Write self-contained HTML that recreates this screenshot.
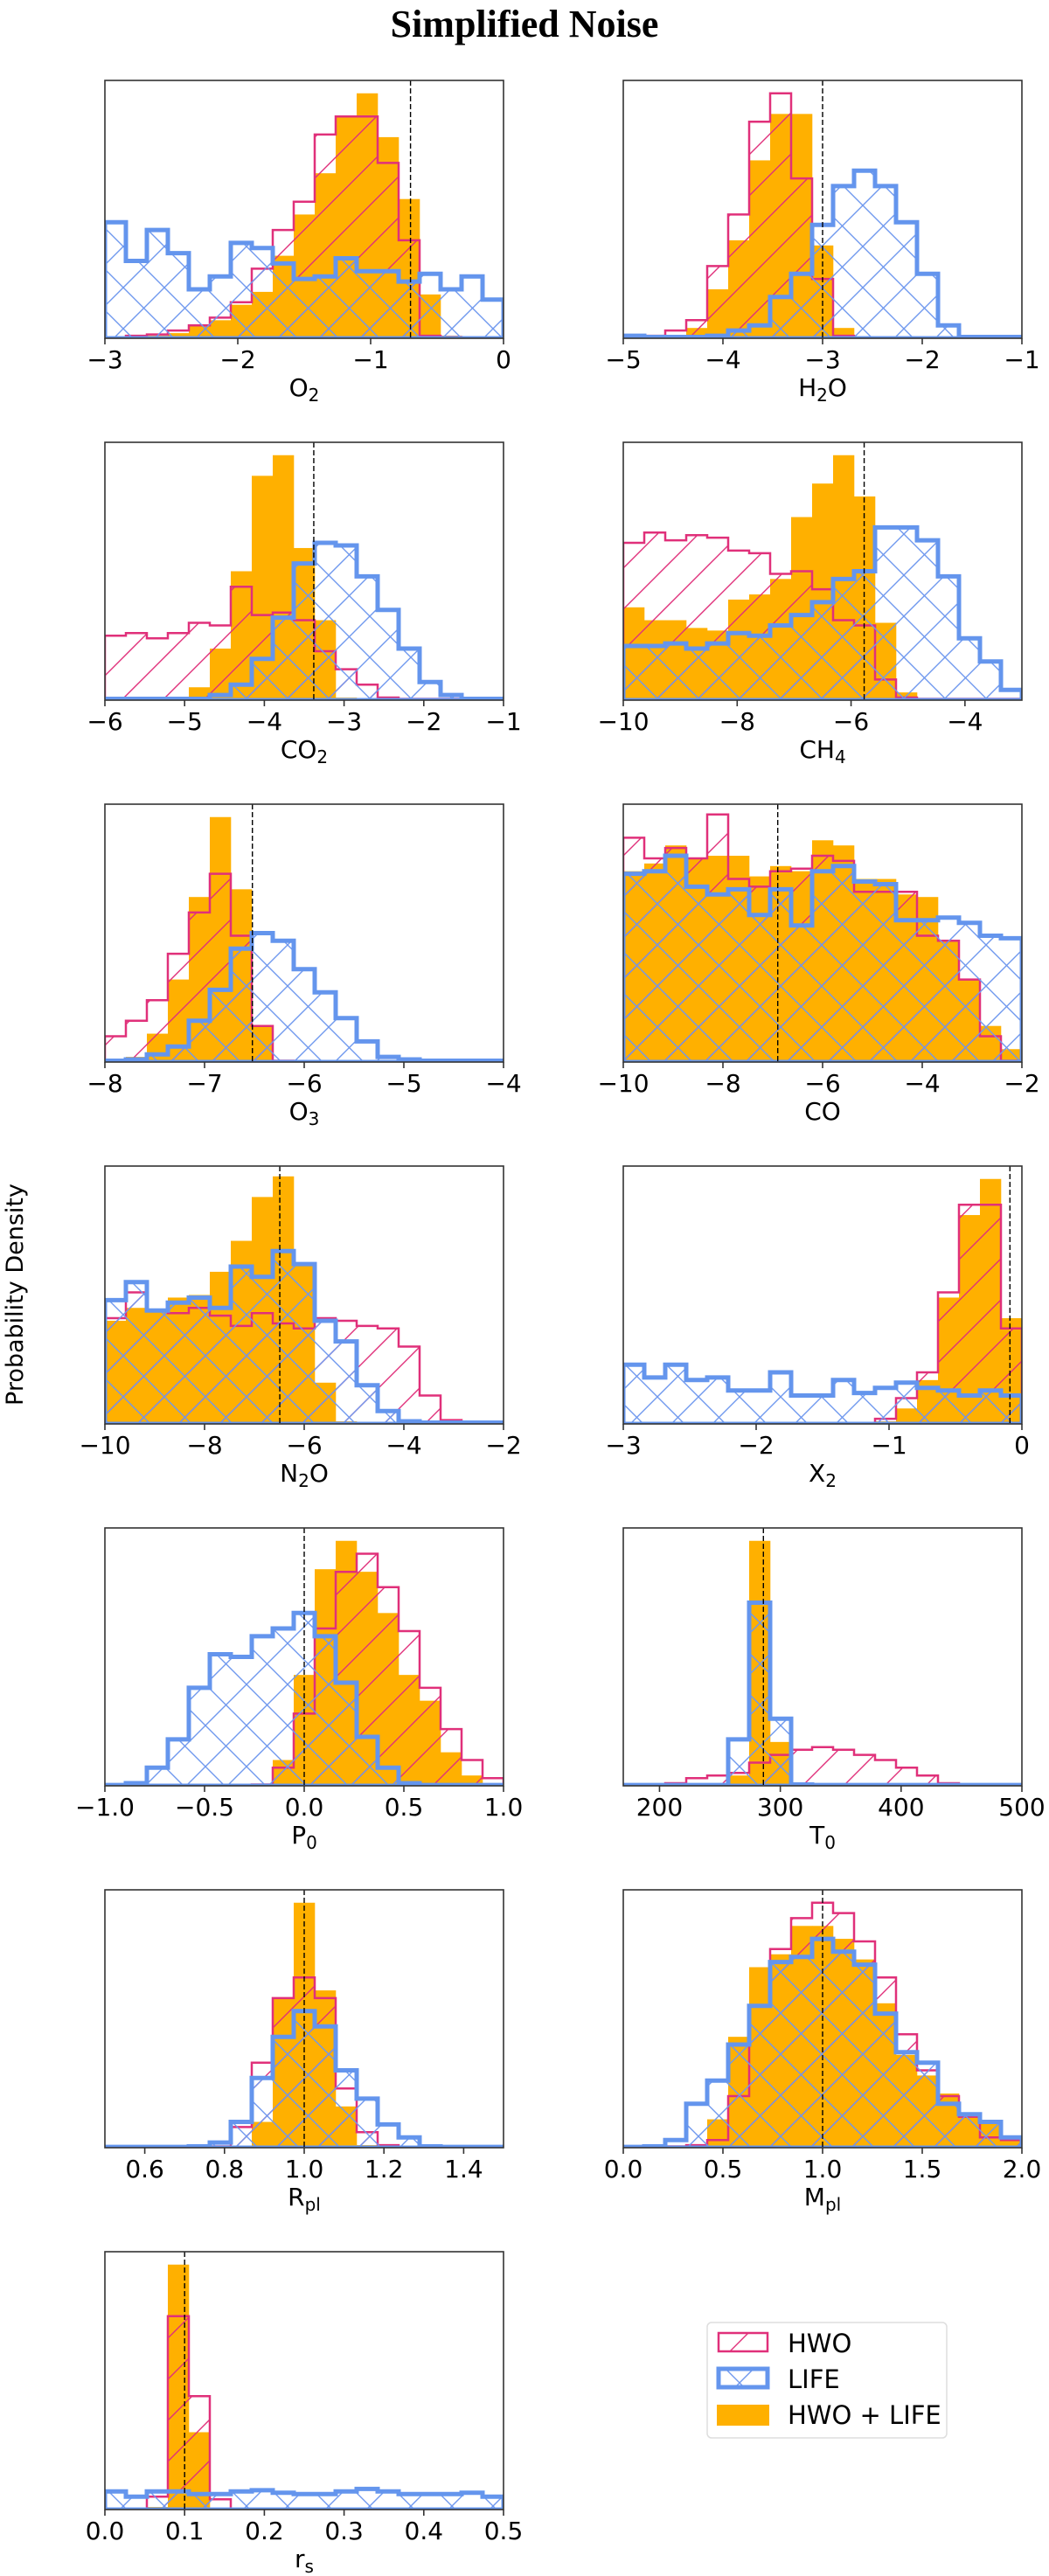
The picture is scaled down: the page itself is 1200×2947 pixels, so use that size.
<!DOCTYPE html>
<html><head><meta charset="utf-8"><style>
html,body{margin:0;padding:0;background:#fff;}
svg{display:block;}
text{font-family:"DejaVu Sans","Liberation Sans",sans-serif;fill:#000;}
</style></head><body>
<svg id="fig" width="1200" height="2947" viewBox="0 0 1200 2947" xmlns="http://www.w3.org/2000/svg">
<defs>
<pattern id="hatchPink" patternUnits="userSpaceOnUse" width="47" height="47">
<path d="M0,47 L47,0 M-6,6 L6,-6 M41,53 L53,41" stroke="#e0307a" stroke-width="1.4" fill="none"/>
</pattern>
<pattern id="hatchBlue" patternUnits="userSpaceOnUse" width="47" height="47">
<path d="M0,47 L47,0 M-6,6 L6,-6 M41,53 L53,41 M0,0 L47,47 M-6,41 L6,53 M41,-6 L53,6" stroke="#6f98ee" stroke-width="1.4" fill="none"/>
</pattern>
</defs>
<text x="600" y="42" text-anchor="middle" style="font-family:'Liberation Serif',serif;font-weight:bold;font-size:44px">Simplified Noise</text>
<text transform="translate(26,1481) rotate(-90)" text-anchor="middle" style="font-size:27px">Probability Density</text>
<g>
<rect x="809" y="2657" width="274" height="132" rx="5" fill="#fff" stroke="#ddd" stroke-width="1.5"/>
<g>
<rect x="822" y="2669" width="56" height="21" fill="url(#hatchPink)" stroke="#e0307a" stroke-width="2.5"/>
<text x="901" y="2691" style="font-size:29px">HWO</text></g>
<g>
<rect x="822" y="2710" width="56" height="21" fill="url(#hatchBlue)" stroke="#6495ed" stroke-width="5"/>
<text x="901" y="2732" style="font-size:29px">LIFE</text></g>
<g>
<rect x="820" y="2751" width="60" height="24" fill="#ffb000"/>
<text x="901" y="2773" style="font-size:29px">HWO + LIFE</text></g>
</g>
<g id="panels"></g>
</svg>
<script>
// ---- data (relative densities per bin; 19 equal bins across each axis range) ----
const o2Hwo=[0.003,0.01,0.015,0.03,0.05,0.08,0.14,0.27,0.42,0.53,0.79,0.86,0.86,0.68,0.38,0.01,0.005,0,0];
const o2Life=[0.45,0.30,0.42,0.33,0.19,0.24,0.37,0.35,0.29,0.23,0.24,0.31,0.26,0.26,0.22,0.25,0.19,0.24,0.15];
const o2Both=[0.005,0.01,0.01,0.02,0.05,0.07,0.13,0.18,0.32,0.48,0.64,0.86,0.95,0.78,0.54,0.17,0.01,0,0];
const h2oHwo=[0.003,0.01,0.03,0.07,0.28,0.48,0.84,0.95,0.62,0.23,0.01,0,0,0,0,0,0,0,0];
const h2oLife=[0.01,0.005,0.005,0.005,0.01,0.03,0.05,0.16,0.25,0.44,0.59,0.65,0.59,0.45,0.25,0.05,0.005,0.005,0.005];
const h2oBoth=[0,0.005,0.01,0.04,0.19,0.38,0.69,0.87,0.87,0.36,0.04,0,0,0,0,0,0,0,0];
const co2Hwo=[0.25,0.26,0.24,0.26,0.30,0.29,0.44,0.33,0.34,0.31,0.19,0.12,0.06,0.01,0.005,0.005,0.005,0.005,0.005];
const co2Life=[0.005,0.005,0.005,0.005,0.005,0.02,0.06,0.16,0.32,0.53,0.61,0.60,0.48,0.35,0.20,0.07,0.02,0.005,0.005];
const co2Both=[0,0,0,0.003,0.05,0.20,0.50,0.87,0.95,0.59,0.31,0.01,0,0,0,0,0,0,0];
const ch4Hwo=[0.61,0.65,0.62,0.64,0.63,0.58,0.57,0.49,0.50,0.43,0.31,0.29,0.08,0.01,0.005,0.005,0.005,0.005,0.005];
const ch4Life=[0.21,0.21,0.22,0.20,0.22,0.26,0.25,0.29,0.33,0.38,0.47,0.50,0.67,0.67,0.62,0.48,0.24,0.15,0.04];
const ch4Both=[0.36,0.31,0.31,0.28,0.27,0.39,0.41,0.47,0.71,0.84,0.95,0.79,0.30,0.03,0,0,0,0,0];
const o3Hwo=[0.10,0.16,0.24,0.42,0.58,0.73,0.49,0.14,0.005,0,0,0,0,0,0,0,0,0,0];
const o3Life=[0.005,0.01,0.03,0.06,0.16,0.28,0.44,0.50,0.47,0.36,0.27,0.17,0.08,0.02,0.01,0.005,0.005,0.005,0.005];
const o3Both=[0.005,0.02,0.11,0.32,0.64,0.95,0.67,0.14,0,0,0,0,0,0,0,0,0,0,0];
const coHwo=[0.87,0.79,0.83,0.79,0.96,0.71,0.68,0.74,0.75,0.80,0.78,0.66,0.66,0.66,0.49,0.47,0.32,0.10,0.005];
const coLife=[0.73,0.74,0.80,0.68,0.65,0.67,0.57,0.67,0.53,0.74,0.76,0.70,0.69,0.55,0.55,0.56,0.54,0.49,0.48];
const coBoth=[0.74,0.77,0.84,0.79,0.80,0.80,0.72,0.76,0.74,0.86,0.84,0.71,0.71,0.65,0.64,0.47,0.32,0.14,0.05];
const n2oHwo=[0.41,0.51,0.44,0.43,0.45,0.42,0.38,0.43,0.39,0.37,0.41,0.40,0.38,0.37,0.30,0.11,0.015,0.005,0.005];
const n2oLife=[0.48,0.55,0.44,0.47,0.49,0.45,0.61,0.57,0.67,0.62,0.40,0.32,0.15,0.05,0.01,0.005,0.005,0.005,0.005];
const n2oBoth=[0.40,0.45,0.44,0.49,0.50,0.59,0.71,0.88,0.96,0.62,0.16,0.01,0,0,0,0,0,0,0];
const x2Hwo=[0.003,0.003,0.003,0.003,0.003,0.003,0.003,0.003,0.003,0.003,0.003,0.003,0.02,0.10,0.20,0.51,0.85,0.85,0.37];
const x2Life=[0.23,0.18,0.23,0.17,0.18,0.13,0.13,0.20,0.11,0.11,0.17,0.12,0.14,0.16,0.14,0.13,0.11,0.13,0.11];
const x2Both=[0,0,0,0,0,0,0,0,0,0,0,0,0.01,0.06,0.17,0.49,0.81,0.95,0.41];
const p0Hwo=[0,0,0,0,0,0,0.003,0.005,0.07,0.28,0.61,0.83,0.90,0.77,0.60,0.38,0.22,0.10,0.03];
const p0Life=[0.003,0.01,0.07,0.18,0.38,0.51,0.50,0.58,0.61,0.67,0.58,0.40,0.19,0.07,0.01,0.003,0.003,0.003,0.003];
const p0Both=[0,0,0,0,0,0,0,0,0.10,0.43,0.84,0.95,0.83,0.67,0.43,0.33,0.13,0.04,0.01];
const t0Hwo=[0.003,0.005,0.01,0.03,0.04,0.05,0.09,0.12,0.14,0.15,0.14,0.12,0.10,0.07,0.04,0.01,0.003,0.003,0.003];
const t0Life=[0.003,0.003,0.003,0.003,0.003,0.18,0.71,0.26,0.005,0.003,0.003,0.003,0.003,0.003,0.003,0.003,0.003,0.003,0.003];
const t0Both=[0,0,0,0,0,0.04,0.95,0.17,0,0,0,0,0,0,0,0,0,0,0];
const rplHwo=[0,0,0,0,0,0.005,0.08,0.33,0.58,0.66,0.58,0.23,0.06,0.01,0,0,0,0,0];
const rplLife=[0.003,0.003,0.003,0.003,0.005,0.02,0.10,0.27,0.43,0.53,0.47,0.30,0.19,0.09,0.04,0.005,0.003,0.003,0.003];
const rplBoth=[0,0,0,0,0,0.003,0.003,0.10,0.58,0.95,0.61,0.16,0.01,0,0,0,0,0,0];
const mplHwo=[0.003,0.003,0.005,0.01,0.03,0.20,0.55,0.77,0.89,0.95,0.91,0.80,0.66,0.44,0.30,0.20,0.12,0.04,0.03];
const mplLife=[0.003,0.005,0.03,0.17,0.26,0.40,0.55,0.72,0.74,0.81,0.76,0.71,0.52,0.37,0.33,0.17,0.13,0.10,0.04];
const mplBoth=[0,0,0,0.003,0.11,0.43,0.70,0.75,0.86,0.86,0.81,0.73,0.56,0.36,0.28,0.21,0.12,0.10,0.03];
const rsHwo=[0.003,0.003,0.05,0.75,0.44,0.04,0.003,0.003,0.003,0.003,0.003,0.003,0.003,0.003,0.003,0.003,0.003,0.003,0.003];
const rsLife=[0.07,0.05,0.07,0.07,0.06,0.06,0.07,0.075,0.065,0.06,0.06,0.07,0.08,0.07,0.06,0.06,0.06,0.065,0.05];
const rsBoth=[0,0,0.01,0.95,0.30,0,0,0,0,0,0,0,0,0,0,0,0,0,0];

const o2Ticks=[-3,-2,-1,0], o2TickLabels=["−3","−2","−1","0"];
const h2oTicks=[-5,-4,-3,-2,-1], h2oTickLabels=["−5","−4","−3","−2","−1"];
const co2Ticks=[-6,-5,-4,-3,-2,-1], co2TickLabels=["−6","−5","−4","−3","−2","−1"];
const ch4Ticks=[-10,-8,-6,-4], ch4TickLabels=["−10","−8","−6","−4"];
const o3Ticks=[-8,-7,-6,-5,-4], o3TickLabels=["−8","−7","−6","−5","−4"];
const coTicks=[-10,-8,-6,-4,-2], coTickLabels=["−10","−8","−6","−4","−2"];
const x2Ticks=[-3,-2,-1,0], x2TickLabels=["−3","−2","−1","0"];
const p0Ticks=[-1,-0.5,0,0.5,1], p0TickLabels=["−1.0","−0.5","0.0","0.5","1.0"];
const t0Ticks=[200,300,400,500], t0TickLabels=["200","300","400","500"];
const rplTicks=[0.6,0.8,1.0,1.2,1.4], rplTickLabels=["0.6","0.8","1.0","1.2","1.4"];
const mplTicks=[0,0.5,1,1.5,2], mplTickLabels=["0.0","0.5","1.0","1.5","2.0"];
const rsTicks=[0,0.1,0.2,0.3,0.4,0.5], rsTickLabels=["0.0","0.1","0.2","0.3","0.4","0.5"];
const truthValues=[-0.7,-3.0,-3.38,-5.77,-6.52,-6.9,-6.49,-0.09,0.0,286,1.0,1.0,0.1];

const panels=[
 {id:"o2",main:"O",sub:"2",lo:-3,hi:0,hwo:o2Hwo,life:o2Life,both:o2Both,ticks:o2Ticks,labels:o2TickLabels},
 {id:"h2o",main:"H",sub:"2",after:"O",lo:-5,hi:-1,hwo:h2oHwo,life:h2oLife,both:h2oBoth,ticks:h2oTicks,labels:h2oTickLabels},
 {id:"co2",main:"CO",sub:"2",lo:-6,hi:-1,hwo:co2Hwo,life:co2Life,both:co2Both,ticks:co2Ticks,labels:co2TickLabels},
 {id:"ch4",main:"CH",sub:"4",lo:-10,hi:-3,hwo:ch4Hwo,life:ch4Life,both:ch4Both,ticks:ch4Ticks,labels:ch4TickLabels},
 {id:"o3",main:"O",sub:"3",lo:-8,hi:-4,hwo:o3Hwo,life:o3Life,both:o3Both,ticks:o3Ticks,labels:o3TickLabels},
 {id:"co",main:"CO",sub:"",lo:-10,hi:-2,hwo:coHwo,life:coLife,both:coBoth,ticks:coTicks,labels:coTickLabels},
 {id:"n2o",main:"N",sub:"2",after:"O",lo:-10,hi:-2,hwo:n2oHwo,life:n2oLife,both:n2oBoth,ticks:coTicks,labels:coTickLabels},
 {id:"x2",main:"X",sub:"2",lo:-3,hi:0,hwo:x2Hwo,life:x2Life,both:x2Both,ticks:x2Ticks,labels:x2TickLabels},
 {id:"p0",main:"P",sub:"0",lo:-1,hi:1,hwo:p0Hwo,life:p0Life,both:p0Both,ticks:p0Ticks,labels:p0TickLabels},
 {id:"t0",main:"T",sub:"0",lo:170,hi:500,hwo:t0Hwo,life:t0Life,both:t0Both,ticks:t0Ticks,labels:t0TickLabels},
 {id:"rpl",main:"R",sub:"pl",lo:0.5,hi:1.5,hwo:rplHwo,life:rplLife,both:rplBoth,ticks:rplTicks,labels:rplTickLabels},
 {id:"mpl",main:"M",sub:"pl",lo:0,hi:2,hwo:mplHwo,life:mplLife,both:mplBoth,ticks:mplTicks,labels:mplTickLabels},
 {id:"rs",main:"r",sub:"s",lo:0,hi:0.5,hwo:rsHwo,life:rsLife,both:rsBoth,ticks:rsTicks,labels:rsTickLabels}
];

const NS="http://www.w3.org/2000/svg";
const root=document.getElementById("panels");
const PW=456, PH=295, LEFTS=[120,713], TOP0=92, PITCH=414;
function mk(tag,attrs,parent){const e=document.createElementNS(NS,tag);for(const k in attrs)e.setAttribute(k,attrs[k]);parent.appendChild(e);return e;}

panels.forEach((p,i)=>{
  const px=LEFTS[i%2], py=TOP0+PITCH*Math.floor(i/2);
  const xs=v=>px+(v-p.lo)/(p.hi-p.lo)*PW;
  const ys=v=>py+PH*(1-v);
  const g=mk("g",{},root);
  
  
  const cid="clip-"+p.id;
  const cp=mk("clipPath",{id:cid},g); mk("rect",{x:px,y:py,width:PW,height:PH},cp);
  const plot=mk("g",{"clip-path":"url(#"+cid+")"},g);
  function stepPath(vals){
    const n=vals.length, w=(p.hi-p.lo)/n;
    let d="M"+xs(p.lo).toFixed(1)+","+ys(0).toFixed(1);
    vals.forEach((v,k)=>{
      const x0=xs(p.lo+k*w), x1=xs(p.lo+(k+1)*w), y=ys(v);
      d+=" L"+x0.toFixed(1)+","+y.toFixed(1)+" L"+x1.toFixed(1)+","+y.toFixed(1);
    });
    d+=" L"+xs(p.hi).toFixed(1)+","+ys(0).toFixed(1)+" Z";
    return d;
  }
  const n=p.both.length, w=(p.hi-p.lo)/n;
  p.both.forEach((v,k)=>{
    if(v<=0) return;
    const r=mk("rect",{x:xs(p.lo+k*w),y:ys(v),width:xs(p.lo+(k+1)*w)-xs(p.lo+k*w)+0.3,height:ys(0)-ys(v),fill:"#ffb000"},plot);
    
    
  });
  const ph=mk("path",{d:stepPath(p.hwo),fill:"url(#hatchPink)",stroke:"#e0307a","stroke-width":"2.5"},plot);
  
  
  const pl=mk("path",{d:stepPath(p.life),fill:"url(#hatchBlue)",stroke:"#6495ed","stroke-width":"5","stroke-linejoin":"miter"},plot);
  
  
  const tx=xs(truthValues[i]);
  const dl=mk("line",{x1:tx,x2:tx,y1:py,y2:py+PH,stroke:"#000","stroke-width":"1.4","stroke-dasharray":"6,3"},plot);
  
  
  const fr=mk("rect",{x:px,y:py,width:PW,height:PH,fill:"none",stroke:"#333","stroke-width":"1.6"},g);
  
  
  p.ticks.forEach((t,k)=>{
    const x=xs(t);
    const tk=mk("line",{x1:x,x2:x,y1:py+PH,y2:py+PH+7,stroke:"#333","stroke-width":"1.6"},g);
    
    
    const tl=mk("text",{x:x,y:py+PH+34,"text-anchor":"middle","font-size":"28"},g);
    tl.textContent=p.labels[k];
    
    
  });
  const xl=mk("text",{x:px+PW/2,y:py+PH+66,"text-anchor":"middle","font-size":"28"},g);
  
  
  const t1=mk("tspan",{},xl); t1.textContent=p.main;
  if(p.sub){const t2=mk("tspan",{"font-size":"20",dy:"6"},xl); t2.textContent=p.sub;}
  if(p.after){const t3=mk("tspan",{dy:"-6"},xl); t3.textContent=p.after;}
});
</script>
</body></html>
